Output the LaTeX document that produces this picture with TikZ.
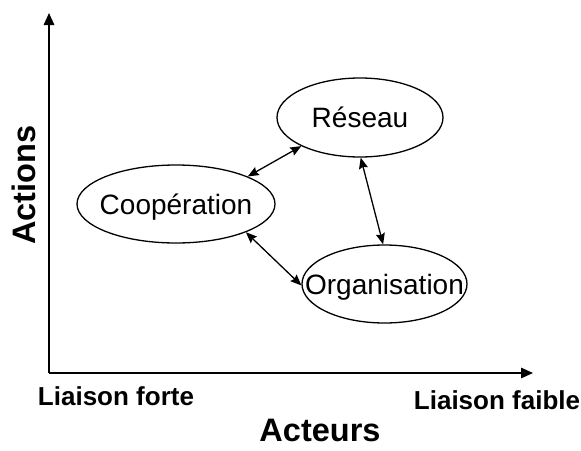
\documentclass[tikz,border=0pt]{standalone}
\usepackage{fontspec}
\setmainfont{Liberation Sans}
\usetikzlibrary{shapes.geometric,arrows.meta}
% text that does not widen the ellipse around it
\newcommand{\inbubble}[1]{\makebox[0pt][c]{#1}}
\begin{document}
\begin{tikzpicture}[x=1pt,y=-1pt,
  bubble/.style={ellipse,draw,line width=1.3pt,inner sep=0pt,
    text height=20pt,text depth=0pt,
    font=\fontsize{28}{32}\selectfont},
  link/.style={line width=1.3pt,{Stealth[length=11pt,width=9pt,inset=1.5pt]}-{Stealth[length=11pt,width=9pt,inset=1.5pt]}},
  axis/.style={line width=1.5pt,-{Triangle[length=12pt,width=10.5pt]}},
  axlabel/.style={anchor=base,inner sep=0pt,font=\bfseries\fontsize{26}{30}\selectfont},
  axtitle/.style={anchor=base,inner sep=0pt,font=\bfseries\fontsize{32.5}{36}\selectfont}]
\useasboundingbox (0,0) rectangle (581,450);

% axes
\coordinate (o) at (49,373);
\coordinate (ytip) at (49,13);
\coordinate (xtip) at (533,373);
\draw[axis] (o) -- (ytip);
\draw[axis] (o) -- (xtip);

% axis texts
\node[axtitle,rotate=90] (actions) at (35,185) {Actions};
\node[axtitle] (acteurs) at (320,441) {Acteurs};
\node[axlabel] (forte) at (116,405) {Liaison forte};
\node[axlabel] (faible) at (497,409) {Liaison faible};

% forms of relationship
\node[bubble,minimum width=166pt,minimum height=79pt] (res) at (360,117.5) {\inbubble{Réseau}};
\node[bubble,minimum width=198pt,minimum height=78pt] (coop) at (176,204) {\inbubble{Coopération}};
\node[bubble,minimum width=165pt,minimum height=78pt] (org) at (384.5,284) {\inbubble{Organisation}};

% links between them
\draw[link] (coop.21) -- (res.206);
\draw[link] (coop.-22) -- (org.181);
\draw[link] (res.-89) -- (org.92);
\end{tikzpicture}
\end{document}
